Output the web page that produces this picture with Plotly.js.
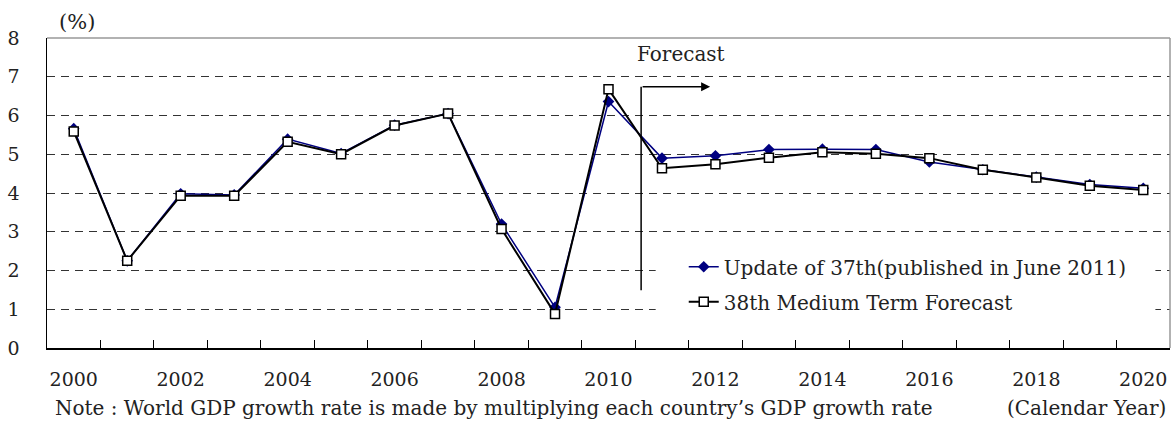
<!DOCTYPE html>
<html>
<head>
<meta charset="utf-8">
<script src="https://cdn.plot.ly/plotly-3.0.1.min.js"></script>
<style>
  html, body { margin: 0; padding: 0; background: #fff; }
  #chart-container { width: 1174px; height: 423px; }
</style>
</head>
<body>
<div id="chart-container"></div>
<script>
const years = [2000, 2001, 2002, 2003, 2004, 2005, 2006, 2007, 2008, 2009, 2010,
               2011, 2012, 2013, 2014, 2015, 2016, 2017, 2018, 2019, 2020]

// Update of 37th (published in June 2011)
const update37 = [5.66, 2.25, 3.98, 3.95, 5.39, 5.02, 5.75, 6.05, 3.20, 1.05, 6.36,
                  4.90, 4.96, 5.12, 5.13, 5.12, 4.80, 4.60, 4.41, 4.22, 4.12]
// 38th Medium Term Forecast
const forecast38 = [5.59, 2.25, 3.93, 3.93, 5.32, 5.00, 5.74, 6.05, 3.07, 0.88, 6.68,
                    4.64, 4.74, 4.91, 5.05, 5.01, 4.90, 4.60, 4.40, 4.19, 4.08]

const yearLabels = years.filter(y => y % 2 === 0)
const seriesNames = ['Update of 37th(published in June 2011)', '38th Medium Term Forecast']

const FONT = 'DejaVu Serif, Liberation Serif, serif'
const TEXT = '#222'

function DrawChart() {
    let data = [
        {
            x: years,
            y: update37,
            type: 'scatter',
            mode: 'lines+markers',
            name: seriesNames[0],
            legendgroup: 'a',
            line: { color: '#000080', width: 1.5 },
            marker: { symbol: 'diamond', size: 9, color: '#000080' }
        },
        {
            x: years,
            y: forecast38,
            type: 'scatter',
            mode: 'lines+markers',
            name: seriesNames[1],
            legendgroup: 'b',
            line: { color: '#000000', width: 2 },
            marker: { symbol: 'square', size: 9, color: '#ffffff',
                      line: { color: '#000000', width: 1.5 } }
        }
    ]

    let layout = {
        width: 1174,
        height: 423,
        margin: { l: 47, r: 4, t: 38, b: 75 },
        paper_bgcolor: '#fff',
        plot_bgcolor: '#fff',
        font: { family: FONT, size: 19, color: TEXT },
        showlegend: true,
        legend: {
            x: 0.567, xanchor: 'left',
            y: 0.325, yanchor: 'top',
            bgcolor: 'rgba(0,0,0,0)',
            traceorder: 'grouped',
            tracegroupgap: 6,
            font: { family: FONT, size: 20, color: TEXT }
        },
        xaxis: {
            range: [1999.5, 2020.5],
            tickmode: 'array',
            tickvals: yearLabels,
            ticktext: yearLabels.map(String),
            ticks: '',
            ticklabelstandoff: 14,
            tickfont: { family: FONT, size: 19, color: TEXT },
            showgrid: false,
            zeroline: false,
            showline: true,
            linecolor: '#000',
            linewidth: 1.5,
            minor: {
                tickmode: 'array',
                tickvals: years.slice(1).map(y => y - 0.5),
                ticks: 'inside',
                ticklen: 8,
                tickcolor: '#000',
                tickwidth: 1,
                showgrid: false
            },
            fixedrange: true
        },
        yaxis: {
            range: [0, 8],
            dtick: 1,
            tick0: 0,
            ticks: '',
            ticklabelstandoff: 22,
            tickfont: { family: FONT, size: 19, color: TEXT },
            showgrid: true,
            gridcolor: '#333',
            gridwidth: 1,
            griddash: '8px,6px',
            zeroline: false,
            showline: true,
            linecolor: '#000',
            linewidth: 1.5,
            fixedrange: true
        },
        shapes: [
            // white legend box hiding gridlines
            { type: 'rect', xref: 'paper', yref: 'paper', x0: 0.542, x1: 0.987, y0: 0.075, y1: 0.35,
              fillcolor: '#fff', line: { width: 0 }, layer: 'above' },
            // gray frame on top and right
            { type: 'line', xref: 'paper', yref: 'paper', x0: 0, x1: 1, y0: 1, y1: 1,
              line: { color: '#999', width: 1.5 } },
            { type: 'line', xref: 'paper', yref: 'paper', x0: 1, x1: 1, y0: 0, y1: 1,
              line: { color: '#999', width: 1.5 } },
            // forecast divider
            { type: 'line', xref: 'x', yref: 'y', x0: 2010.61, x1: 2010.61, y0: 1.49, y1: 6.74,
              line: { color: '#000', width: 1.5 } }
        ],
        annotations: [
            {
                xref: 'x', yref: 'y', x: 2011.9, y: 6.74,
                ax: 2010.61, ay: 6.74, axref: 'x', ayref: 'y',
                text: '', showarrow: true,
                arrowhead: 2, arrowsize: 1.2, arrowwidth: 1.5, arrowcolor: '#000'
            },
            {
                xref: 'x', yref: 'y', x: 2011.36, y: 7.6,
                text: 'Forecast', showarrow: false,
                font: { family: FONT, size: 20, color: TEXT }
            },
            {
                xref: 'paper', yref: 'paper', x: 0.027, y: 1.053,
                xanchor: 'center', yanchor: 'middle',
                text: '(%)', showarrow: false,
                font: { family: FONT, size: 21, color: TEXT }
            },
            {
                xref: 'paper', yref: 'paper', x: 0.005, y: -0.195,
                xanchor: 'left', yanchor: 'middle',
                text: 'Note : World GDP growth rate is made by multiplying each country\u2019s GDP growth rate',
                showarrow: false,
                font: { family: FONT, size: 20, color: TEXT }
            },
            {
                xref: 'paper', yref: 'paper', x: 0.9985, y: -0.195,
                xanchor: 'right', yanchor: 'middle',
                text: '(Calendar Year)', showarrow: false,
                font: { family: FONT, size: 20, color: TEXT }
            }
        ]
    }

    Plotly.newPlot('chart-container', data, layout, { staticPlot: true })
}

DrawChart()
</script>
</body>
</html>
